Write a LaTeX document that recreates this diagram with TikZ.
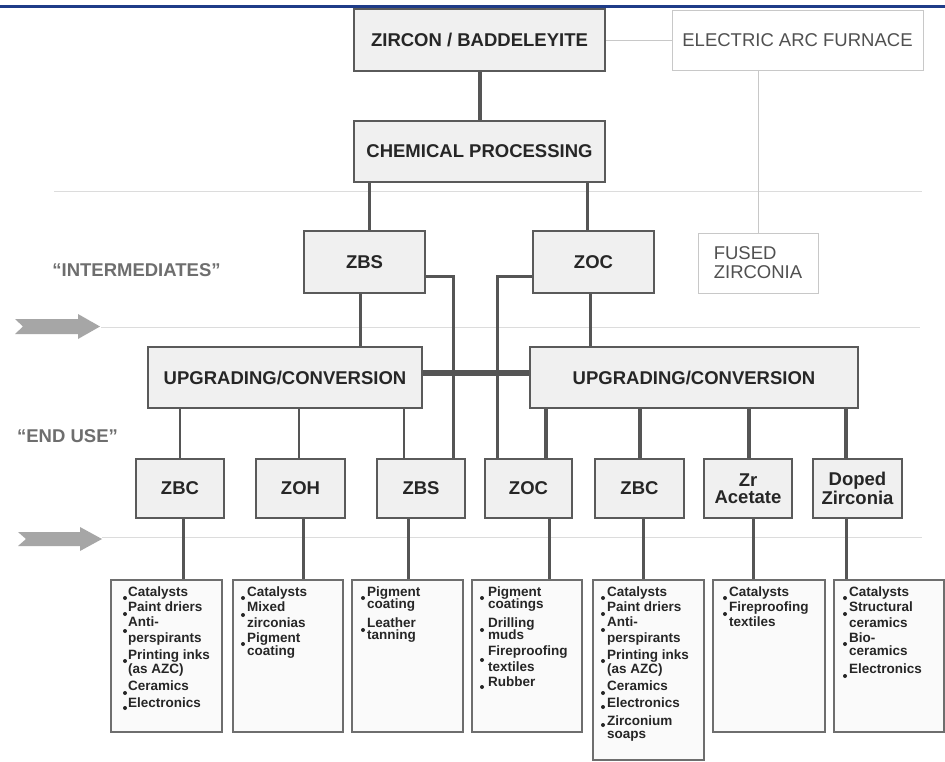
\documentclass[tikz,border=0pt]{standalone}
\usepackage{fontspec}
\setmainfont{Liberation Sans}
\definecolor{boxfill}{HTML}{F0F0F0}
\definecolor{boxdraw}{HTML}{5A5A5A}
\definecolor{txt}{HTML}{262626}
\definecolor{conncol}{HTML}{555555}
\definecolor{sepcol}{HTML}{DCDCDC}
\definecolor{lightdraw}{HTML}{C8C8C8}
\definecolor{lighttxt}{HTML}{505050}
\definecolor{labcol}{HTML}{6E6E6E}
\definecolor{udraw}{HTML}{6E6E6E}
\definecolor{ufill}{HTML}{FAFAFA}
\definecolor{arrowcol}{HTML}{A6A6A6}
\definecolor{topblue}{HTML}{1F3C88}
\newcounter{lnc}
\newcommand\bline[3]{\stepcounter{lnc}\node[bt] (t\thelnc) at (#1,#2) {#3};}
\newcommand\bdot[2]{\fill[txt] (#1,#2) circle (2pt);}
\begin{document}
\begin{tikzpicture}[x=1pt,y=-1pt,
  box/.style={draw=boxdraw, line width=2.6pt, fill=boxfill, inner sep=0pt, text=txt, align=center,
    font=\bfseries\fontsize{18.5}{17}\selectfont},
  lightbox/.style={draw=lightdraw, line width=0.9pt, fill=white, inner sep=0pt, text=lighttxt,
    font=\fontsize{18.5}{19}\selectfont},
  usebox/.style={draw=udraw, line width=2pt, fill=ufill, inner sep=0pt},
  conn/.style={draw=conncol, line width=3pt},
  thinl/.style={draw=lightdraw, line width=0.9pt},
  sep/.style={draw=sepcol, line width=1pt},
  lab/.style={text=labcol, font=\bfseries\fontsize{18.5}{20}\selectfont, inner sep=0pt},
  bt/.style={anchor=west, inner sep=0pt, text height=9.5pt, text depth=0pt, text=txt,
    font=\bfseries\fontsize{13.5}{14}\selectfont},
  garrow/.style={fill=arrowcol}
]
\useasboundingbox (0,0) rectangle (945,761);
\fill[white] (0,0) rectangle (945,761);
% top rule
\draw[topblue, line width=3pt] (0,6) -- (945,6);
% separators
\draw[sep] (54,191) -- (922,191);
\draw[sep] (101,327) -- (920,327);
\draw[sep] (102,537) -- (922,537);
% grey arrows
\fill[garrow] (15,319) -- (78,319) -- (78,314) -- (100,326.5) -- (78,339) -- (78,334) -- (15,334) -- (23,326.5) -- cycle;
\fill[garrow] (18,532) -- (80,532) -- (80,527) -- (102,539) -- (80,551) -- (80,546) -- (18,546) -- (26,539) -- cycle;
% labels
\node[lab] (lint) at (136.5,270) {“INTERMEDIATES”};
\node[lab] (lend) at (67.5,436) {“END USE”};

% nodes (coordinates only, drawn later on top)
\path
  node[box, minimum width=251pt, minimum height=62pt] (zircon) at (479.5,40) {ZIRCON / BADDELEYITE}
  node[lightbox, minimum width=251pt, minimum height=60pt] (eaf) at (797.5,40) {ELECTRIC ARC FURNACE}
  node[box, minimum width=251pt, minimum height=61pt] (chem) at (479.5,151.5) {CHEMICAL PROCESSING}
  node[lightbox, minimum width=120pt, minimum height=60pt, align=left] (fused) at (758,263) {FUSED\\ZIRCONIA}
  node[box, minimum width=121pt, minimum height=62pt] (zbs) at (364.5,262) {ZBS}
  node[box, minimum width=121pt, minimum height=62pt] (zoc) at (593.5,262) {ZOC}
  node[box, minimum width=274pt, minimum height=61pt] (upl) at (285,377.5) {\raisebox{-4pt}{UPGRADING/CONVERSION}}
  node[box, minimum width=328pt, minimum height=61pt] (upr) at (694,377.5) {\raisebox{-4pt}{UPGRADING/CONVERSION}}
  node[box, minimum width=88pt, minimum height=59pt] (zbc1) at (180,488.5) {\raisebox{-3pt}{ZBC}}
  node[box, minimum width=89pt, minimum height=59pt] (zoh) at (300.5,488.5) {\raisebox{-3pt}{ZOH}}
  node[box, minimum width=88pt, minimum height=59pt] (zbs2) at (421,488.5) {\raisebox{-3pt}{ZBS}}
  node[box, minimum width=87pt, minimum height=59pt] (zoc2) at (528.5,488.5) {\raisebox{-3pt}{ZOC}}
  node[box, minimum width=89pt, minimum height=59pt] (zbc2) at (639.5,488.5) {\raisebox{-3pt}{ZBC}}
  node[box, minimum width=88pt, minimum height=59pt] (zrac) at (748,488.5) {Zr\\Acetate}
  node[box, minimum width=89pt, minimum height=59pt] (doped) at (857.5,488.5) {Doped\\Zirconia}
  node[usebox, minimum width=111pt, minimum height=152pt] (b1) at (166.5,656) {}
  node[usebox, minimum width=110pt, minimum height=152pt] (b2) at (288,656) {}
  node[usebox, minimum width=111pt, minimum height=152pt] (b3) at (407.5,656) {}
  node[usebox, minimum width=110pt, minimum height=152pt] (b4) at (527,656) {}
  node[usebox, minimum width=111pt, minimum height=180pt] (b5) at (648.5,670) {}
  node[usebox, minimum width=112pt, minimum height=152pt] (b6) at (769,656) {}
  node[usebox, minimum width=110pt, minimum height=152pt] (b7) at (889,656) {};

% connectors
\draw[conn, line width=4pt] (zircon) -- (chem);
\draw[thinl] (zircon.east) -- (eaf.west);
\draw[thinl] (eaf.south -| 758,0) -- (fused.north);
\draw[conn] (chem.south -| 369,0) -- (zbs.north -| 369,0);
\draw[conn] (chem.south -| 587,0) -- (zoc.north -| 587,0);
\draw[conn] (zbs.south -| 360,0) -- (upl.north -| 360,0);
\draw[conn] (zoc.south -| 590,0) -- (upr.north -| 590,0);
\draw[conn] (zbs.east |- 0,276) -| (zbs2.north -| 453,0);
\draw[conn] (zoc.west |- 0,276) -| (zoc2.north -| 497,0);
\draw[conn, line width=6pt] (upl.east |- 0,373) -- (upr.west |- 0,373);
\draw[conn, line width=2.6pt] (upl.south -| 180,0) -- (zbc1.north -| 180,0);
\draw[conn, line width=2.6pt] (upl.south -| 299,0) -- (zoh.north -| 299,0);
\draw[conn, line width=2.6pt] (upl.south -| 404,0) -- (zbs2.north -| 404,0);
\draw[conn, line width=4pt] (upr.south -| 546,0) -- (zoc2.north -| 546,0);
\draw[conn, line width=4pt] (upr.south -| 640,0) -- (zbc2.north -| 640,0);
\draw[conn, line width=4pt] (upr.south -| 749,0) -- (zrac.north -| 749,0);
\draw[conn, line width=4pt] (upr.south -| 846,0) -- (doped.north -| 846,0);
\draw[conn] (zbc1.south -| 183,0) -- (b1.north -| 183,0);
\draw[conn] (zoh.south -| 303,0) -- (b2.north -| 303,0);
\draw[conn] (zbs2.south -| 408,0) -- (b3.north -| 408,0);
\draw[conn] (zoc2.south -| 549,0) -- (b4.north -| 549,0);
\draw[conn] (zbc2.south -| 643,0) -- (b5.north -| 643,0);
\draw[conn] (zrac.south -| 753,0) -- (b6.north -| 753,0);
\draw[conn] (doped.south -| 846,0) -- (b7.north -| 846,0);

% redraw boxes on top of connector ends
\node[box, minimum width=251pt, minimum height=62pt] at (zircon) {ZIRCON / BADDELEYITE};
\node[lightbox, minimum width=251pt, minimum height=60pt] at (eaf) {ELECTRIC ARC FURNACE};
\node[box, minimum width=251pt, minimum height=61pt] at (chem) {CHEMICAL PROCESSING};
\node[lightbox, minimum width=120pt, minimum height=60pt, align=left] at (fused) {FUSED\\ZIRCONIA};
\node[box, minimum width=121pt, minimum height=62pt] at (zbs) {ZBS};
\node[box, minimum width=121pt, minimum height=62pt] at (zoc) {ZOC};
\node[box, minimum width=274pt, minimum height=61pt] at (upl) {\raisebox{-4pt}{UPGRADING/CONVERSION}};
\node[box, minimum width=328pt, minimum height=61pt] at (upr) {\raisebox{-4pt}{UPGRADING/CONVERSION}};
\node[box, minimum width=88pt, minimum height=59pt] at (zbc1) {\raisebox{-3pt}{ZBC}};
\node[box, minimum width=89pt, minimum height=59pt] at (zoh) {\raisebox{-3pt}{ZOH}};
\node[box, minimum width=88pt, minimum height=59pt] at (zbs2) {\raisebox{-3pt}{ZBS}};
\node[box, minimum width=87pt, minimum height=59pt] at (zoc2) {\raisebox{-3pt}{ZOC}};
\node[box, minimum width=89pt, minimum height=59pt] at (zbc2) {\raisebox{-3pt}{ZBC}};
\node[box, minimum width=88pt, minimum height=59pt] at (zrac) {Zr\\Acetate};
\node[box, minimum width=89pt, minimum height=59pt] at (doped) {Doped\\Zirconia};
\node[usebox, minimum width=111pt, minimum height=152pt] at (b1) {};
\node[usebox, minimum width=110pt, minimum height=152pt] at (b2) {};
\node[usebox, minimum width=111pt, minimum height=152pt] at (b3) {};
\node[usebox, minimum width=110pt, minimum height=152pt] at (b4) {};
\node[usebox, minimum width=111pt, minimum height=180pt] at (b5) {};
\node[usebox, minimum width=112pt, minimum height=152pt] at (b6) {};
\node[usebox, minimum width=110pt, minimum height=152pt] at (b7) {};

% box 1
\bdot{125}{598}\bline{128}{592}{Catalysts}
\bdot{125}{614}\bline{128}{607}{Paint driers}
\bdot{125}{631}\bline{128}{622}{Anti-}\bline{128}{638}{perspirants}
\bdot{125}{661}\bline{128}{655}{Printing inks}\bline{128}{669}{(as AZC)}
\bdot{125}{693}\bline{128}{686}{Ceramics}
\bdot{125}{708}\bline{128}{703}{Electronics}
% box 2
\bdot{243}{598}\bline{247}{592}{Catalysts}
\bdot{243}{615}\bline{247}{607}{Mixed}\bline{247}{623}{zirconias}
\bdot{243}{644}\bline{247}{638}{Pigment}\bline{247}{651}{coating}
% box 3
\bdot{363}{598}\bline{367}{592}{Pigment}\bline{367}{604}{coating}
\bdot{363}{630}\bline{367}{623}{Leather}\bline{367}{635}{tanning}
% box 4
\bdot{482}{598}\bline{488}{592}{Pigment}\bline{488}{604}{coatings}
\bdot{482}{630}\bline{488}{623}{Drilling}\bline{488}{635}{muds}
\bdot{482}{660}\bline{488}{651}{Fireproofing}\bline{488}{667}{textiles}
\bdot{482}{687}\bline{488}{682}{Rubber}
% box 5
\bdot{603}{598}\bline{607}{592}{Catalysts}
\bdot{603}{614}\bline{607}{607}{Paint driers}
\bdot{603}{630}\bline{607}{622}{Anti-}\bline{607}{638}{perspirants}
\bdot{603}{661}\bline{607}{655}{Printing inks}\bline{607}{669}{(as AZC)}
\bdot{603}{693}\bline{607}{686}{Ceramics}
\bdot{603}{707}\bline{607}{703}{Electronics}
\bdot{603}{725}\bline{607}{721}{Zirconium}\bline{607}{734}{soaps}
% box 6
\bdot{725}{598}\bline{729}{592}{Catalysts}
\bdot{725}{614}\bline{729}{607}{Fireproofing}\bline{729}{622}{textiles}
% box 7
\bdot{845}{598}\bline{849}{592}{Catalysts}
\bdot{845}{614}\bline{849}{607}{Structural}\bline{849}{623}{ceramics}
\bdot{845}{644}\bline{849}{638}{Bio-}\bline{849}{651}{ceramics}
\bdot{845}{676}\bline{849}{669}{Electronics}
\end{tikzpicture}
\end{document}
